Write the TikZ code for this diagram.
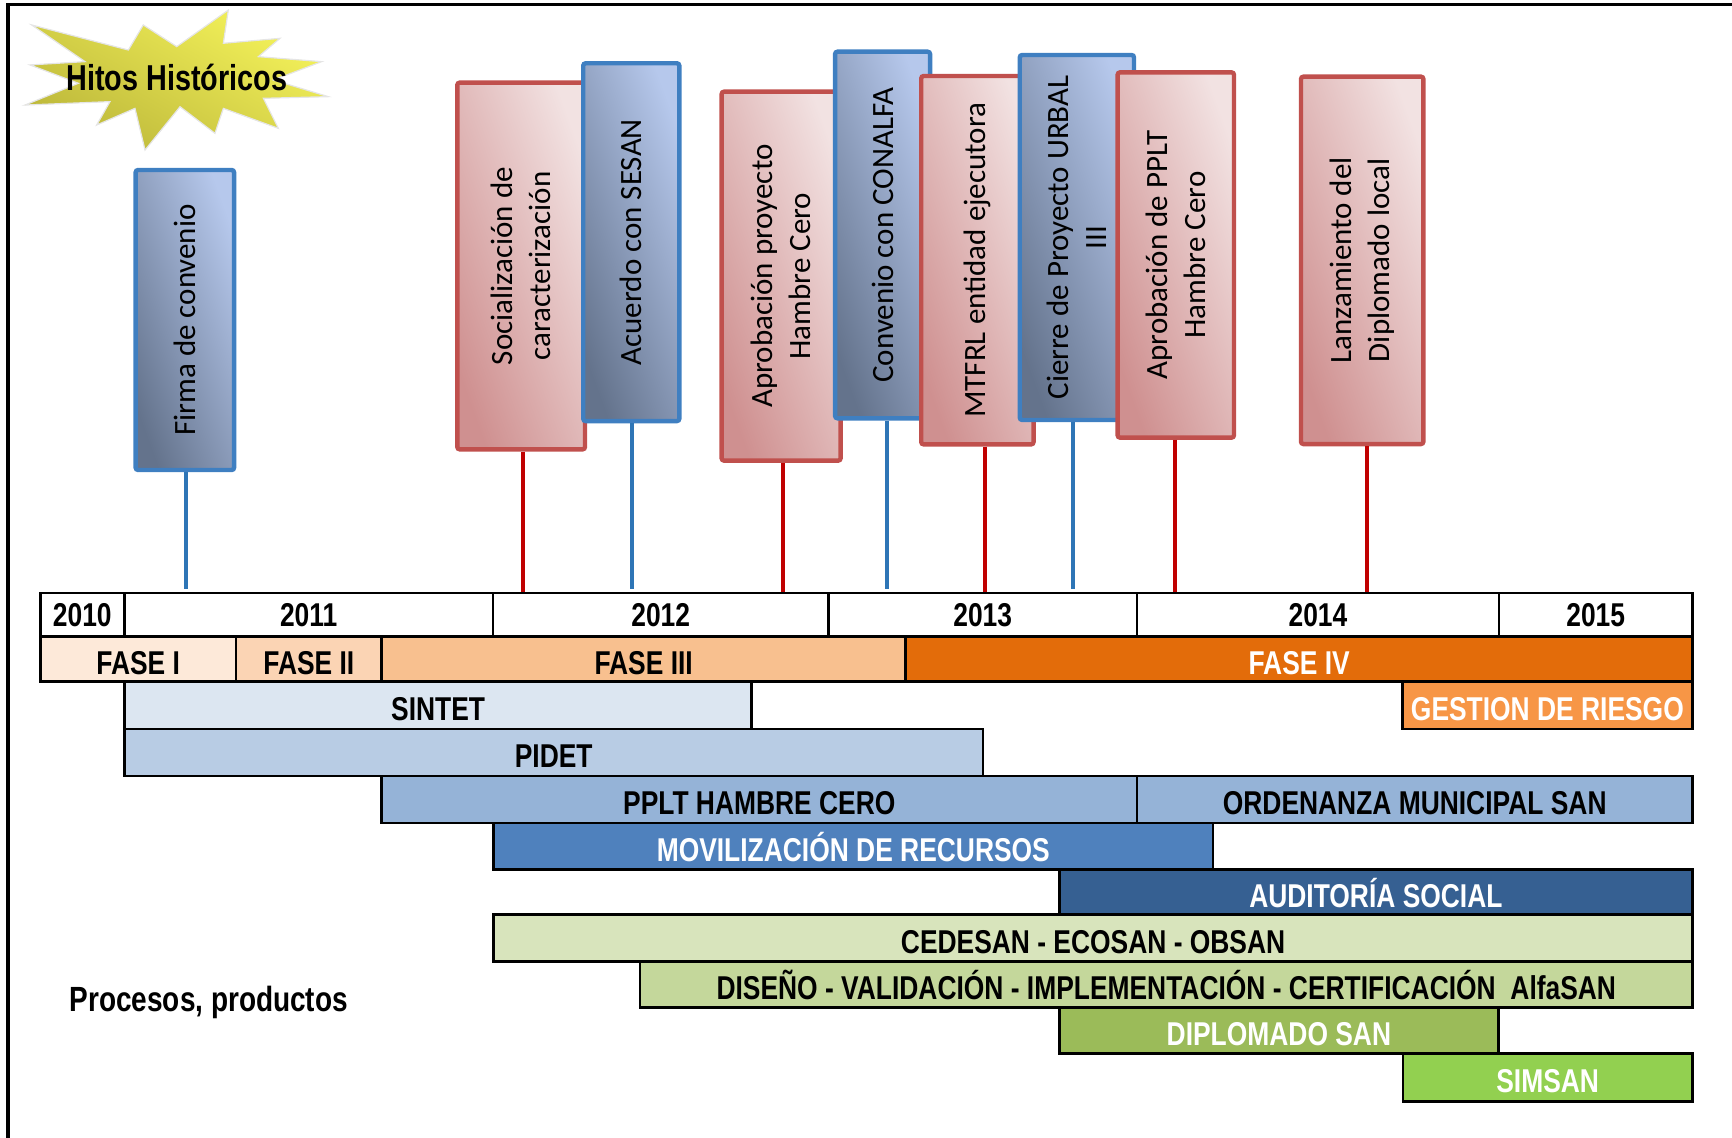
\documentclass[tikz,border=0pt]{standalone}
\usepackage{fontspec}
\newfontfamily\barfont{Liberation Sans}[FakeStretch=0.80]
\newfontfamily\msfont{Carlito}
\usetikzlibrary{fit,calc}

\definecolor{fase1}{HTML}{FDE9D9}
\definecolor{fase2}{HTML}{FBD4B4}
\definecolor{fase3}{HTML}{F8C08F}
\definecolor{fase4}{HTML}{E36C0A}
\definecolor{gestion}{HTML}{F79646}
\definecolor{sintet}{HTML}{DCE6F1}
\definecolor{pidet}{HTML}{B8CCE4}
\definecolor{pplt}{HTML}{95B3D7}
\definecolor{movil}{HTML}{4F81BD}
\definecolor{audit}{HTML}{366092}
\definecolor{cedesan}{HTML}{D8E4BC}
\definecolor{diseno}{HTML}{C4D79B}
\definecolor{diplo}{HTML}{9BBB59}
\definecolor{simsan}{HTML}{92D050}
\definecolor{msredline}{HTML}{C0504D}
\definecolor{msreddark}{HTML}{CF9090}
\definecolor{msredlight}{HTML}{F2E2E2}
\definecolor{msblueline}{HTML}{3F7FC1}
\definecolor{msbluedark}{HTML}{64738C}
\definecolor{msbluelight}{HTML}{B6C8EC}
\definecolor{stemred}{HTML}{C00000}
\definecolor{stemblue}{HTML}{2E75B6}
\definecolor{stardark}{HTML}{BDB83A}
\definecolor{starlight}{HTML}{F4F25A}

% #1 text shift, #2 name, #3-#6 box, #7 fill, #8 text colour, #9 text
\newcommand\mkbar[9][-1.66pt]{%
  \node[bar, fit={(#3,#4) (#5,#6)}, fill=#7] (#2) {};
  \node[bartxt, text=#8] (#2t) at ([yshift=#1]#2.center) {#9};}

% #1 name, #2-#5 box, #6 red/blue, #7 text
\newcommand\mkms[7]{%
  \node[ms#6, fit={(#2,#3) (#4,#5)}] (#1) {};
  \node[mstxt] (#1t) at (#1.center) {#7};}

\begin{document}
\begin{tikzpicture}[x=0.5523pt, y=-0.5523pt,
  bar/.style={draw=black, line width=1.3pt, inner sep=0pt},
  bartxt/.style={font=\barfont\bfseries\fontsize{16.5}{19}\selectfont, inner sep=0pt, text height=11.8pt, text depth=0pt},
  msbox/.style={inner sep=0pt, line width=2.2pt, rounded corners=1.2pt},
  msred/.style={msbox, draw=msredline, bottom color=msreddark, top color=msredlight, shading angle=-70},
  msblue/.style={msbox, draw=msblueline, bottom color=msbluedark, top color=msbluelight, shading angle=-70},
  mstxt/.style={rotate=90, align=center, inner sep=0pt, font=\msfont\fontsize{15.5}{19}\selectfont},
  stemr/.style={draw=stemred, line width=2pt},
  stemb/.style={draw=stemblue, line width=2pt, shorten >=1.5pt},
  frame/.style={draw=black, line width=1.6pt}
]
\useasboundingbox (0,0) rectangle (1568,1030);

% frame
\draw[frame] (7.2,1030) -- (7.2,4.2) -- (1568,4.2);

% star
\path[shade, bottom color=stardark, top color=starlight, shading angle=-30, draw=gray!20, line width=0.6pt]
  (28.7,22.6) -- (116.2,45.3) -- (129.7,22.6) -- (160,42.2) -- (206.7,9.1) -- (202.2,39.2)
  -- (253.5,34.7) -- (233.9,51.3) -- (291.2,55.8) -- (247.5,72.4) -- (297.2,87.5) -- (238.4,89)
  -- (252,116.2) -- (202.2,98.1) -- (194.6,120.7) -- (163,96.6) -- (131.3,135.8) -- (122.2,98.1)
  -- (87.5,113.2) -- (99.6,92) -- (22.6,95.1) -- (70.9,75.4) -- (27.2,58.8) -- (77,55.8) -- cycle;
\node[font=\barfont\bfseries\fontsize{18}{20}\selectfont, inner sep=0pt, text height=12.9pt, text depth=0pt] (hitos) at (160,70.2) {Hitos Históricos};

% milestones
\mkms{m1}{122.8}{153.9}{211.9}{425.5}{blue}{Firma de convenio}
\mkms{m2}{414}{74.8}{529.6}{406.8}{red}{Socialización de\\caracterización}
\mkms{m3}{528}{57.3}{615}{381.2}{blue}{Acuerdo con SESAN}
\mkms{m4}{653.3}{83}{761}{417}{red}{Aprobación proyecto\\Hambre Cero}
\mkms{m5}{756}{46.8}{842}{378.7}{blue}{Convenio con CONALFA}
\mkms{m6}{834}{68.8}{935.7}{402.3}{red}{MTFRL entidad ejecutora}
\mkms{m7}{923.2}{49.8}{1026.6}{380.2}{blue}{Cierre de Proyecto URBAL\\III}
\mkms{m8}{1011.8}{65.5}{1117.1}{396.2}{red}{Aprobación de PPLT\\Hambre Cero}
\mkms{m9}{1177.8}{69.4}{1288.6}{402}{red}{Lanzamiento del\\Diplomado local}

% year row
\mkbar[0pt]{y2010}{36.4}{537}{112.6}{576}{white}{black}{2010}
\mkbar[0pt]{y2011}{112.6}{537}{446.3}{576}{white}{black}{2011}
\mkbar[0pt]{y2012}{446.3}{537}{750}{576}{white}{black}{2012}
\mkbar[0pt]{y2013}{750}{537}{1029.3}{576}{white}{black}{2013}
\mkbar[0pt]{y2014}{1029.3}{537}{1357}{576}{white}{black}{2014}
\mkbar[0pt]{y2015}{1357}{537}{1532.2}{576}{white}{black}{2015}

% stems
\coordinate (s1) at ($(m1.south)+(1,0)$);
\coordinate (s2) at ($(m2.south)+(2,0)$);
\coordinate (s3) at ($(m3.south)+(0.5,0)$);
\coordinate (s4) at ($(m4.south)+(1.5,0)$);
\coordinate (s5) at ($(m5.south)+(4,0)$);
\coordinate (s6) at ($(m6.south)+(6.5,0)$);
\coordinate (s7) at ($(m7.south)+(-3.5,0)$);
\coordinate (s8) at ($(m8.south)+(-1,0)$);
\coordinate (s9) at ($(m9.south)+(4,0)$);
\draw[stemb] (s1) -- (s1 |- y2011.north);
\draw[stemr] (s2) -- (s2 |- y2012.north);
\draw[stemb] (s3) -- (s3 |- y2012.north);
\draw[stemr] (s4) -- (s4 |- y2012.north);
\draw[stemb] (s5) -- (s5 |- y2013.north);
\draw[stemr] (s6) -- (s6 |- y2013.north);
\draw[stemb] (s7) -- (s7 |- y2013.north);
\draw[stemr] (s8) -- (s8 |- y2014.north);
\draw[stemr] (s9) -- (s9 |- y2014.north);

% phases
\mkbar{f1}{36.4}{576}{213.8}{617}{fase1}{black}{FASE I}
\mkbar{f2}{213.8}{576}{345.4}{617}{fase2}{black}{FASE II}
\mkbar{f3}{345.4}{576}{820}{617}{fase3}{black}{FASE III}
\mkbar{f4}{820}{576}{1532.2}{617}{fase4}{white}{FASE IV}

% processes
\mkbar{sintet}{112.6}{617}{680.6}{660}{sintet}{black}{SINTET}
\mkbar{gestion}{1269.5}{617}{1532.2}{660}{gestion}{white}{GESTION DE RIESGO}
\mkbar{pidet}{112.6}{660}{890}{702.5}{pidet}{black}{PIDET}
\mkbar{pplt}{345.5}{702.5}{1029.3}{745}{pplt}{black}{PPLT HAMBRE CERO}
\mkbar{orden}{1029.3}{702.5}{1532.2}{745}{pplt}{black}{ORDENANZA MUNICIPAL SAN}
\mkbar{movil}{447}{745}{1098}{787}{movil}{white}{MOVILIZACIÓN DE RECURSOS}
\mkbar{audit}{959}{787}{1532.2}{828}{audit}{white}{AUDITORÍA SOCIAL}
\mkbar{cedesan}{447}{828}{1532.2}{870.5}{cedesan}{black}{CEDESAN - ECOSAN - OBSAN}
\mkbar{diseno}{579.5}{870.5}{1532.2}{912}{diseno}{black}{DISEÑO - VALIDACIÓN - IMPLEMENTACIÓN - CERTIFICACIÓN\ \ AlfaSAN}
\mkbar{diplo}{959}{912}{1356.6}{954}{diplo}{white}{DIPLOMADO SAN}
\mkbar{simsan}{1270}{954}{1532.2}{997}{simsan}{white}{SIMSAN}

\node[font=\barfont\bfseries\fontsize{17.5}{20}\selectfont, inner sep=0pt, anchor=base] (procesos) at (189,915.8) {Procesos, productos};
\end{tikzpicture}
\end{document}
